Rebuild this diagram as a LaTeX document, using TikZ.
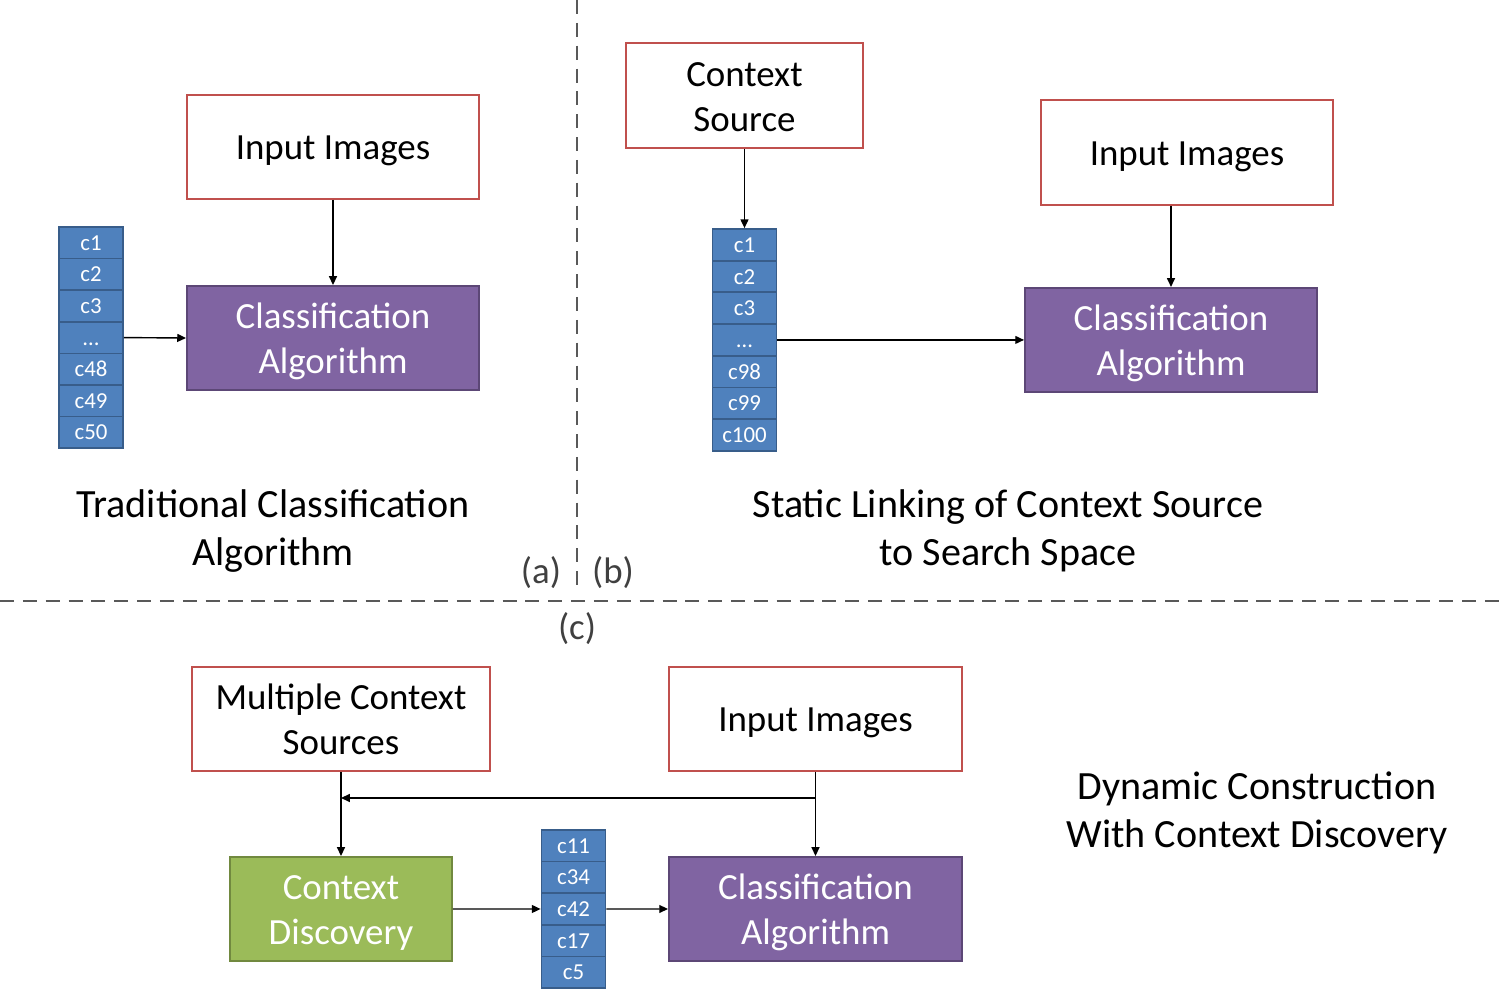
\documentclass[tikz,border=0pt]{standalone}
\usepackage{fontspec}
\setmainfont{Carlito}
\definecolor{inred}{RGB}{192, 80, 77}
\definecolor{algpurple}{RGB}{128, 100, 162}
\definecolor{algborder}{RGB}{92, 71, 118}
\definecolor{discgreen}{RGB}{155, 187, 89}
\definecolor{discborder}{RGB}{113, 137, 63}
\definecolor{cellblue}{RGB}{79, 129, 189}
\definecolor{cellborder}{RGB}{56, 93, 138}
\definecolor{sepgray}{RGB}{89, 89, 89}
\usetikzlibrary{arrows.meta, positioning, calc}

\begin{document}
\begin{tikzpicture}[
    lift/.style={execute at begin node={\rule[-4.5pt]{0pt}{#1}}},
    twoline/.style={lift=49.5pt},
    boxfont/.style={font=\fontsize{21}{25.6}\selectfont},
    inputbox/.style={draw=inred, line width=1.1pt, fill=white, boxfont, align=center,
      minimum height=2.08cm, inner sep=0pt, lift=23.7pt},
    algobox/.style={draw=algborder, line width=1.1pt, fill=algpurple, text=white, boxfont,
      align=center, minimum width=5.84cm, minimum height=2.08cm, inner sep=0pt, twoline},
    discbox/.style={draw=discborder, line width=1.1pt, fill=discgreen, text=white, boxfont,
      align=center, minimum width=4.44cm, minimum height=2.08cm, inner sep=0pt, twoline},
    cell/.style={draw=cellborder, line width=1pt, fill=cellblue, text=white,
      font=\fontsize{13}{15}\selectfont, text height=8.6pt, text depth=0pt,
      minimum width=1.28cm, minimum height=0.632cm, inner sep=0pt},
    caption/.style={font=\fontsize{22.8}{27.3}\selectfont, align=center,
      execute at begin node={\rule[-4.8pt]{0pt}{51.6pt}}},
    panel/.style={font=\fontsize{21}{25}\selectfont, text=black!75},
    sepline/.style={sepgray, line width=0.8pt, dash pattern=on 8pt off 5pt},
    flow/.style={line width=0.8pt, -{Triangle[length=5pt, width=4.5pt]}}
  ]
  \useasboundingbox (0, 0) rectangle (30.04, 20.04);

  % Separators
  \draw[sepline] (11.54, 20.04) -- (11.54, 8.2);
  \draw[sepline] (0, 8.02) -- (30.04, 8.02);
  \node[panel] (labA) at (10.82, 8.58) {(a)};
  \node[panel] (labB) at (12.26, 8.58) {(b)};
  \node[panel] (labC) at (11.54, 7.46) {(c)};

  % (a) Traditional classification
  \node[inputbox, minimum width=5.84cm] (inA) at (6.66, 17.10) {Input Images};
  \node[algobox] (clsA) at (6.66, 13.28) {Classification\\Algorithm};
  \foreach \lbl [count=\i] in {c1, c2, c3, \ldots, c48, c49, c50}
    \node[cell] (stA\i) at (1.82, {15.184 - (\i-1)*0.632}) {\lbl};
  \draw[flow] (inA) -- (clsA);
  \draw[flow] (stA4.east) -- (clsA.west);
  \node[caption] (capA) at (5.46, 9.46) {Traditional Classification\\Algorithm};

  % (b) Static linking
  \node[inputbox, twoline, minimum width=4.74cm, minimum height=2.10cm] (ctxB) at (14.89, 18.13) {Context\\Source};
  \foreach \lbl [count=\i] in {c1, c2, c3, \ldots, c98, c99, c100}
    \node[cell] (stB\i) at (14.89, {15.143 - (\i-1)*0.634}) {\lbl};
  \node[inputbox, minimum width=5.84cm, minimum height=2.10cm] (inB) at (23.74, 16.99) {Input Images};
  \node[algobox] (clsB) at (23.42, 13.241) {Classification\\Algorithm};
  \draw[flow] (ctxB) -- (stB1);
  \draw[flow] (clsB.north |- inB.south) -- (clsB.north);
  \draw[flow] (stB4.east) -- (clsB.west);
  \node[caption] (capB) at (20.16, 9.46) {Static Linking of Context Source\\to Search Space};

  % (c) Dynamic construction
  \node[inputbox, twoline, minimum width=5.96cm] (multiC) at (6.82, 5.66) {Multiple Context\\Sources};
  \node[inputbox, minimum width=5.86cm] (inC) at (16.31, 5.66) {Input Images};
  \node[discbox] (discC) at (6.82, 1.86) {Context\\Discovery};
  \node[algobox, minimum width=5.86cm] (clsC) at (16.31, 1.86) {Classification\\Algorithm};
  \foreach \lbl [count=\i] in {c11, c34, c42, c17, c5}
    \node[cell] (stC\i) at (11.47, {3.124 - (\i-1)*0.632}) {\lbl};
  \coordinate (branch) at (16.31, 4.08);
  \draw[flow] (inC) -- (clsC);
  \draw[flow] (branch) -- (branch -| multiC.south);
  \draw[flow] (multiC) -- (discC);
  \draw[flow] (discC.east) -- (stC3.west);
  \draw[flow] (stC3.east) -- (clsC.west);
  \node[caption] (capC) at (25.14, 3.82) {Dynamic Construction\\With Context Discovery};
\end{tikzpicture}
\end{document}
